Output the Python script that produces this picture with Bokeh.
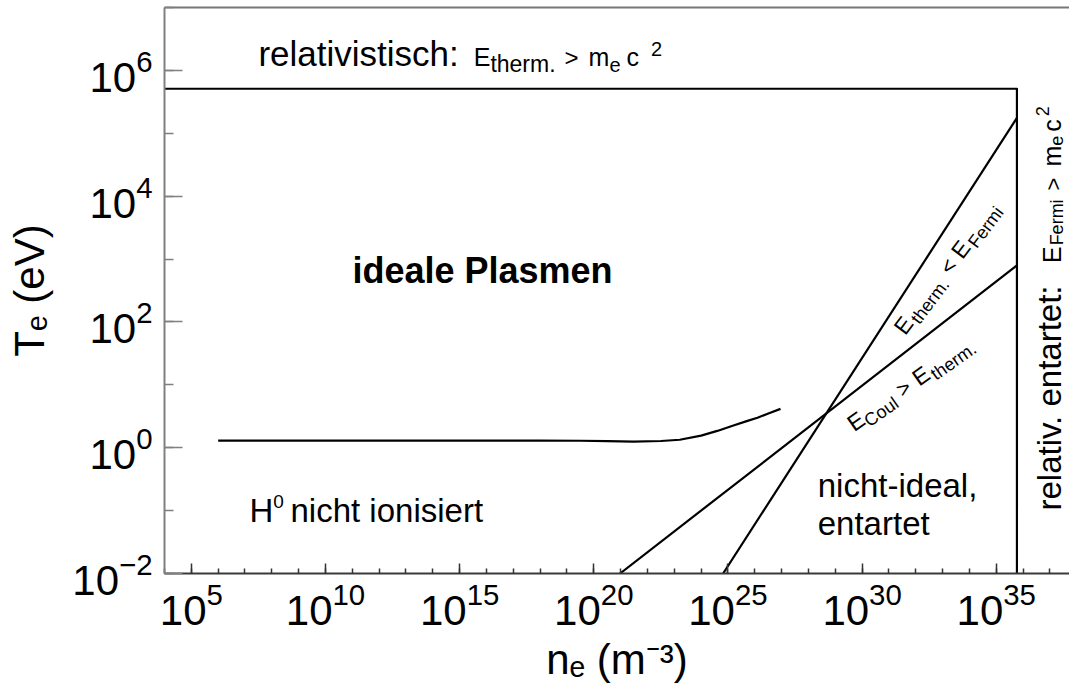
import math

from bokeh.embed import file_html
from bokeh.models import FixedTicker, Label, LogAxis, Range1d
from bokeh.plotting import figure
from bokeh.resources import INLINE

# ---- data: electron density n_e (m^-3) and temperature T_e (eV) ----
n_lo, n_hi = 1e4, 10 ** 37.73
T_lo, T_hi = 1e-2, 1e7

T_rel = 5.11e5      # m_e c^2 in eV
n_rel = 5.9e35      # density where E_Fermi = m_e c^2

# boundary of the relativistic region (horizontal, then vertical)
rel_n = [n_lo, n_rel, n_rel]
rel_T = [T_rel, T_rel, T_lo]

# E_therm = E_Fermi  (T ~ n^(2/3))
fermi_n = [6.6e24, n_rel]
fermi_T = [1e-2, 1.76e5]

# E_Coul = E_therm  (T ~ n^(1/3))
coul_n = [9.5e20, n_rel]
coul_T = [1e-2, 7.9e2]

# 50 % ionisation of hydrogen
ion_n = [1e6, 1e9, 1e12, 1e15, 1e18, 3.2e19, 3.2e20, 3.0e21, 3.2e22, 1.6e23,
         1e24, 4e24, 1.6e25, 5e25, 1.26e26, 3.2e26, 9.1e26]
ion_T = [1.30, 1.30, 1.30, 1.30, 1.30, 1.29, 1.27, 1.25, 1.28, 1.34,
         1.56, 1.85, 2.25, 2.65, 3.0, 3.5, 4.15]

x_major = [1e5, 1e10, 1e15, 1e20, 1e25, 1e30, 1e35]
x_minor = [10.0 ** k for k in range(4, 38)]
y_major = [1e-2, 1e0, 1e2, 1e4, 1e6]
y_minor = [10.0 ** k for k in range(-2, 8)]

FONT = "Liberation Sans"

p = figure(width=1069, height=696,
           x_axis_type="log", y_axis_type="log",
           x_range=Range1d(n_lo, n_hi), y_range=Range1d(T_lo, T_hi),
           output_backend="svg", toolbar_location=None,
           min_border_left=164, min_border_right=0,
           min_border_top=7, min_border_bottom=123)
p.outline_line_color = None
p.grid.visible = False
p.background_fill_color = "white"
p.border_fill_color = "white"

# x axis
xa = p.xaxis[0]
xa.ticker = FixedTicker(ticks=x_major, minor_ticks=x_minor)
xa.axis_line_color = "#3a3a3a"
xa.axis_line_width = 2
xa.major_tick_in, xa.major_tick_out = 10, 0
xa.minor_tick_in, xa.minor_tick_out = 5, 0
xa.major_tick_line_color = "#333333"
xa.minor_tick_line_color = "#333333"
xa.major_tick_line_width = 1.5
xa.minor_tick_line_width = 1.5
xa.major_label_text_font = FONT
xa.major_label_text_font_size = "42px"
xa.major_label_text_color = "black"
xa.major_label_standoff = 8
xa.axis_label = "nₑ (m⁻³)"
xa.axis_label_text_font = FONT
xa.axis_label_text_font_size = "42px"
xa.axis_label_text_font_style = "normal"
xa.axis_label_text_color = "black"
xa.axis_label_standoff = 8

# y axis
ya = p.yaxis[0]
ya.ticker = FixedTicker(ticks=y_major, minor_ticks=y_minor)
ya.axis_line_color = "#808080"
ya.axis_line_width = 2
ya.major_tick_in, ya.major_tick_out = 18, 0
ya.minor_tick_in, ya.minor_tick_out = 9, 0
ya.major_tick_line_color = "#808080"
ya.minor_tick_line_color = "#808080"
ya.major_tick_line_width = 1.5
ya.minor_tick_line_width = 1.5
ya.major_label_text_font = FONT
ya.major_label_text_font_size = "42px"
ya.major_label_text_color = "black"
ya.major_label_standoff = 12
ya.axis_label = "Tₑ (eV)"
ya.axis_label_text_font = FONT
ya.axis_label_text_font_size = "42px"
ya.axis_label_text_font_style = "normal"
ya.axis_label_text_color = "black"
ya.axis_label_standoff = 16

# top border line
top = LogAxis(ticker=FixedTicker(ticks=[]), axis_line_color="#777777",
              axis_line_width=2, major_tick_line_color=None,
              minor_tick_line_color=None, major_label_text_font_size="0px")
p.add_layout(top, "above")

# ---- curves ----
for xs, ys in [(rel_n, rel_T), (fermi_n, fermi_T), (coul_n, coul_T), (ion_n, ion_T)]:
    p.line(xs, ys, line_color="black", line_width=2.2, line_join="round")

# ---- rich text helper (sub/superscripts built from pieces) ----
ADV = {" ": 278, ".": 278, ",": 278, ":": 278, "-": 333, "(": 333, ")": 333,
       "<": 584, ">": 584, "0": 556, "1": 556, "2": 556, "3": 556,
       "C": 722, "E": 667, "F": 611, "H": 722, "T": 611, "V": 667,
       "a": 556, "c": 500, "d": 556, "e": 556, "h": 556, "i": 222, "l": 222,
       "m": 833, "n": 556, "o": 556, "r": 333, "s": 500, "t": 278, "u": 556,
       "v": 500}
LIFT = 0.36   # moves the drawn baseline onto the anchor point


def width(s, size):
    return sum(ADV.get(ch, 556) for ch in s) * size / 1000.0


def rich(x, y, parts, angle=0.0, bold=False):
    ca, sa = math.cos(angle), math.sin(angle)
    adv = 0.0
    for part in parts:
        if isinstance(part, (int, float)):
            adv += part
            continue
        txt, size, rise = part
        up = rise + LIFT * size
        dx = adv * ca - up * sa
        dy = adv * sa + up * ca
        p.add_layout(Label(x=x, y=y, x_offset=dx, y_offset=dy, text=txt,
                           angle=angle, text_font=FONT,
                           text_font_size=f"{size}px",
                           text_font_style="bold" if bold else "normal",
                           text_color="black", text_align="left",
                           text_baseline="alphabetic"))
        adv += width(txt, size)


# region labels
rich(10 ** 7.50, 10 ** 6.062,
     [("relativistisch:", 35, 0), 15, ("E", 25, 0), ("therm.", 23, -6), 9,
      (">", 24, 0), 10, ("m", 25, 0), ("e", 20, -6), 6, ("c", 25, 0), 12,
      ("2", 20, 10)])

rich(10 ** 11.006, 10 ** 2.611, [("ideale Plasmen", 36, 0)], bold=True)

rich(10 ** 7.168, 10 ** -1.184,
     [("H", 33, 0), ("0", 19, 14), 6.6, ("nicht ionisiert", 33, 0)])

rich(10 ** 28.347, 10 ** -0.787, [("nicht-ideal,", 33, 0)])
rich(10 ** 28.347, 10 ** -1.396, [("entartet", 33, 0)])

rich(10 ** 37.428, 10 ** -0.998,
     [("relativ. entartet:", 33, 0), 20, ("E", 25, 0), 1, ("Fermi", 18, -2), 9,
      (">", 22, 0), 11, ("m", 25, 0), ("e", 18, -2), 4, ("c", 25, 0), 3,
      ("2", 18, 12)], angle=math.pi / 2)

rich(10 ** 31.615, 10 ** 1.769,
     [("E", 23, 0), 2, ("therm.", 18, -5), 7, ("<", 22, 0), 7, ("E", 23, 0),
      2, ("Fermi", 18, -5)], angle=math.radians(53))

rich(10 ** 29.714, 10 ** 0.242,
     [("E", 23, 0), ("Coul", 18, -5), 7, (">", 22, 0), 7, ("E", 23, 0), 2,
      ("therm.", 18, -5)], angle=math.radians(35))

open("out.html", "w").write(file_html(p, INLINE))
